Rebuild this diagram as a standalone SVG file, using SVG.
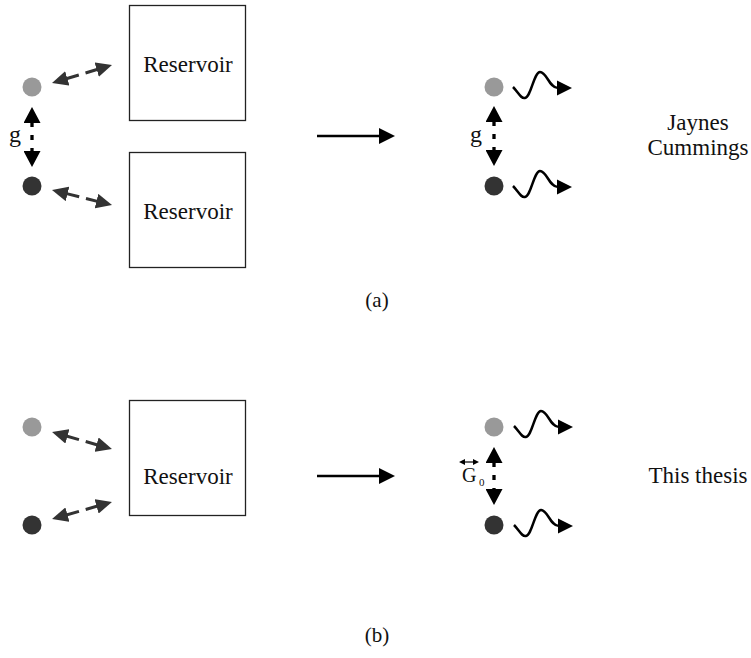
<svg xmlns="http://www.w3.org/2000/svg" xmlns:xlink="http://www.w3.org/1999/xlink" width="751" height="658" viewBox="0 0 751 658" font-family="'Liberation Serif', 'Times New Roman', 'DejaVu Serif', serif">
<style>
  text { font-family: "Liberation Serif", "Times New Roman", "DejaVu Serif", serif; fill: #111; }
  .lbl { font-size: 23px; text-anchor: middle; }
  .cap { font-size: 21px; text-anchor: middle; }
  .box { fill: #fff; stroke: #222; stroke-width: 1.3; }
  .light { fill: #999; }
  .dark { fill: #333; }
  .res { stroke: #333; stroke-width: 3; fill: none; stroke-dasharray: 14 7; marker-start: url(#gh); marker-end: url(#gh); }
  .cpl { stroke: #000; stroke-width: 3.3; fill: none; stroke-dasharray: 5 8; marker-start: url(#bh); marker-end: url(#bh); }
  .big { stroke: #000; stroke-width: 2.5; fill: none; }
  .wave { stroke: #000; stroke-width: 2.5; fill: none; }
</style>
<defs>
  <marker id="gh" markerUnits="userSpaceOnUse" markerWidth="17" markerHeight="15" viewBox="0 0 17 15" refX="2" refY="7.5" orient="auto-start-reverse">
    <path d="M0,0 L16,7.5 L0,15 z" fill="#333"/>
  </marker>
  <marker id="bh" markerUnits="userSpaceOnUse" markerWidth="17" markerHeight="17" viewBox="0 0 17 17" refX="1" refY="8.5" orient="auto-start-reverse">
    <path d="M0,0 L16,8.5 L0,17 z" fill="#000"/>
  </marker>
  <g id="wv">
    <path class="wave" d="M513,87 C518,92 521,99 525,98 C531,97 534,72 540,72 C547,72 549,88 558,88"/>
    <path d="M557,80.5 L572,88 L557,95.5 z" fill="#000"/>
  </g>
</defs>

<!-- Panel (a) -->
<g id="a-q1"><circle class="light" cx="32" cy="87" r="9.5"/></g>
<g id="a-q2"><circle class="dark" cx="32" cy="186" r="9.5"/></g>
<g id="a-res1"><rect class="box" x="129.5" y="5.5" width="116" height="115"/><text class="lbl" x="188" y="72">Reservoir</text></g>
<g id="a-res2"><rect class="box" x="129.5" y="152.5" width="116" height="115"/><text class="lbl" x="188" y="219">Reservoir</text></g>
<g id="a-g1"><text x="15" y="142" font-size="24" text-anchor="middle">g</text></g>
<g id="a-r1"><circle class="light" cx="494" cy="87" r="9.5"/></g>
<g id="a-r2"><circle class="dark" cx="494" cy="186" r="9.5"/></g>
<g id="a-g2"><text x="476" y="142" font-size="24" text-anchor="middle">g</text></g>
<g id="a-jc"><text class="lbl" x="698" y="130">Jaynes</text><text class="lbl" x="698" y="155">Cummings</text></g>
<g id="cap-a"><text class="cap" x="377" y="307">(a)</text></g>

<!-- Panel (b) -->
<g id="b-q1"><circle class="light" cx="32" cy="427" r="9.5"/></g>
<g id="b-q2"><circle class="dark" cx="32" cy="525" r="9.5"/></g>
<g id="b-res"><rect class="box" x="129.5" y="400.5" width="116" height="115"/><text class="lbl" x="188" y="484">Reservoir</text></g>
<g id="b-r1"><circle class="light" cx="494" cy="427" r="9.5"/></g>
<g id="b-r2"><circle class="dark" cx="494" cy="525" r="9.5"/></g>
<g id="b-G0">
  <line x1="463" y1="462" x2="475" y2="462" stroke="#000" stroke-width="1.2"/>
  <path d="M459,462 L465,459 L465,465 z M479,462 L473,459 L473,465 z" fill="#000"/>
  <text x="462" y="482" font-size="20">G</text>
  <text x="479" y="486" font-size="11">0</text>
</g>
<g id="b-th"><text class="lbl" x="698" y="483">This thesis</text></g>
<g id="cap-b"><text class="cap" x="377" y="642">(b)</text></g>

<!-- Connectors -->
<g id="connectors">
  <line class="res" x1="65.4" y1="79.0" x2="98.6" y2="69.0"/>
  <line class="res" x1="65.6" y1="193.4" x2="98.4" y2="201.6"/>
  <line class="cpl" x1="32" y1="122" x2="32" y2="152"/>
  <line class="big" x1="317" y1="136" x2="381" y2="136"/>
  <path d="M379,128 L395,136 L379,144 z" fill="#000"/>
  <line class="cpl" x1="494" y1="121" x2="494" y2="151"/>
  <use xlink:href="#wv"/>
  <use xlink:href="#wv" transform="translate(0,99)"/>

  <line class="res" x1="65.5" y1="435.8" x2="98.5" y2="445.2"/>
  <line class="res" x1="65.5" y1="515.2" x2="98.5" y2="505.8"/>
  <line class="big" x1="317" y1="476" x2="381" y2="476"/>
  <path d="M379,468 L395,476 L379,484 z" fill="#000"/>
  <line class="cpl" x1="494" y1="462" x2="494" y2="490"/>
  <use xlink:href="#wv" transform="translate(1,339)"/>
  <use xlink:href="#wv" transform="translate(1,438)"/>
</g>
</svg>
